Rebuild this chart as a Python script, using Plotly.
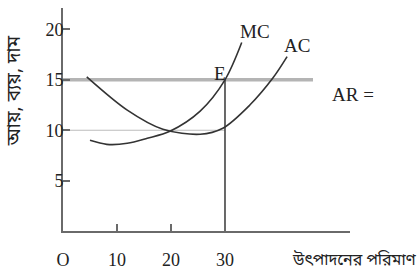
import plotly.graph_objects as go

# ---- data ----
ac_x = [4.4, 11.9, 18.5, 25.4, 29.6, 34.6, 38.9, 41.5]
ac_y = [15.3, 12.0, 10.1, 9.6, 10.2, 12.5, 15.2, 17.3]
mc_x = [5.0, 8.1, 11.9, 15.6, 19.8, 25.4, 30.0, 33.1]
mc_y = [9.0, 8.6, 8.7, 9.2, 9.9, 11.9, 15.0, 18.7]
ar_x = [0, 46.3]
ar_level = 15
eq_q = 30
low_level = 10
x_ticks = [0, 10, 20, 30]
x_tick_text = ["O", "10", "20", "30"]
y_ticks = [5, 10, 15, 20]

SERIF = "Liberation Serif, Times New Roman, serif"
BN = "Noto Sans Bengali, Noto Serif Bengali, Lohit Bengali, Noto Sans, sans-serif"

fig = go.Figure()
# AR line
fig.add_trace(go.Scatter(x=ar_x, y=[ar_level, ar_level], mode="lines",
                         line=dict(color="#b4b4b4", width=3.5), hoverinfo="skip"))
# thin line at 10
fig.add_trace(go.Scatter(x=[0, eq_q], y=[low_level, low_level], mode="lines",
                         line=dict(color="#bdbdbd", width=1.2), hoverinfo="skip"))
# vertical from E
fig.add_trace(go.Scatter(x=[eq_q, eq_q], y=[0, ar_level], mode="lines",
                         line=dict(color="#444", width=1.6), hoverinfo="skip"))
# AC
fig.add_trace(go.Scatter(x=ac_x, y=ac_y, mode="lines",
                         line=dict(color="#333", width=1.6, shape="spline", smoothing=0.9),
                         hoverinfo="skip"))
# MC
fig.add_trace(go.Scatter(x=mc_x, y=mc_y, mode="lines",
                         line=dict(color="#333", width=1.6, shape="spline", smoothing=0.9),
                         hoverinfo="skip"))

axis_common = dict(showline=True, linecolor="#6a6a6a", linewidth=2, showgrid=False,
                   zeroline=False, ticks="inside", ticklen=7, tickcolor="#6a6a6a",
                   tickwidth=1.5, tickfont=dict(family=SERIF, size=18, color="#222"))

fig.update_layout(
    width=419, height=278,
    margin=dict(l=63, r=69, t=8, b=31),
    paper_bgcolor="white", plot_bgcolor="white",
    showlegend=False,
    xaxis=dict(range=[0, 53.15], tickvals=x_ticks, ticktext=x_tick_text,
               ticklabelstandoff=11, **axis_common),
    yaxis=dict(range=[0, 22.13], tickvals=y_ticks, ticklabelstandoff=-6, **axis_common),
)

ann_font = dict(family=SERIF, size=19, color="#222")
fig.add_annotation(x=35.6, y=19.8, text="MC", showarrow=False, font=ann_font)
fig.add_annotation(x=43.3, y=18.4, text="AC", showarrow=False, font=ann_font)
fig.add_annotation(x=29.1, y=15.6, text="E", showarrow=False, font=ann_font)
fig.add_annotation(xref="paper", yref="paper", x=0.93, y=0.669, xanchor="left",
                   text="AR =", showarrow=False, font=ann_font)
fig.add_annotation(xref="paper", yref="paper", x=0.79, y=-0.195, xanchor="left",
                   text="উৎপাদনের পরিমাণ", showarrow=False,
                   font=dict(family=BN, size=16, color="#222"))
fig.add_annotation(xref="paper", yref="paper", x=-0.215, y=0.63, textangle=-90,
                   text="আয়, ব্যয়, দাম", showarrow=False,
                   font=dict(family=BN, size=19, color="#222"))

fig.write_html("out.html", post_script="document.body.style.margin='0';",
               config={"displayModeBar": False})
